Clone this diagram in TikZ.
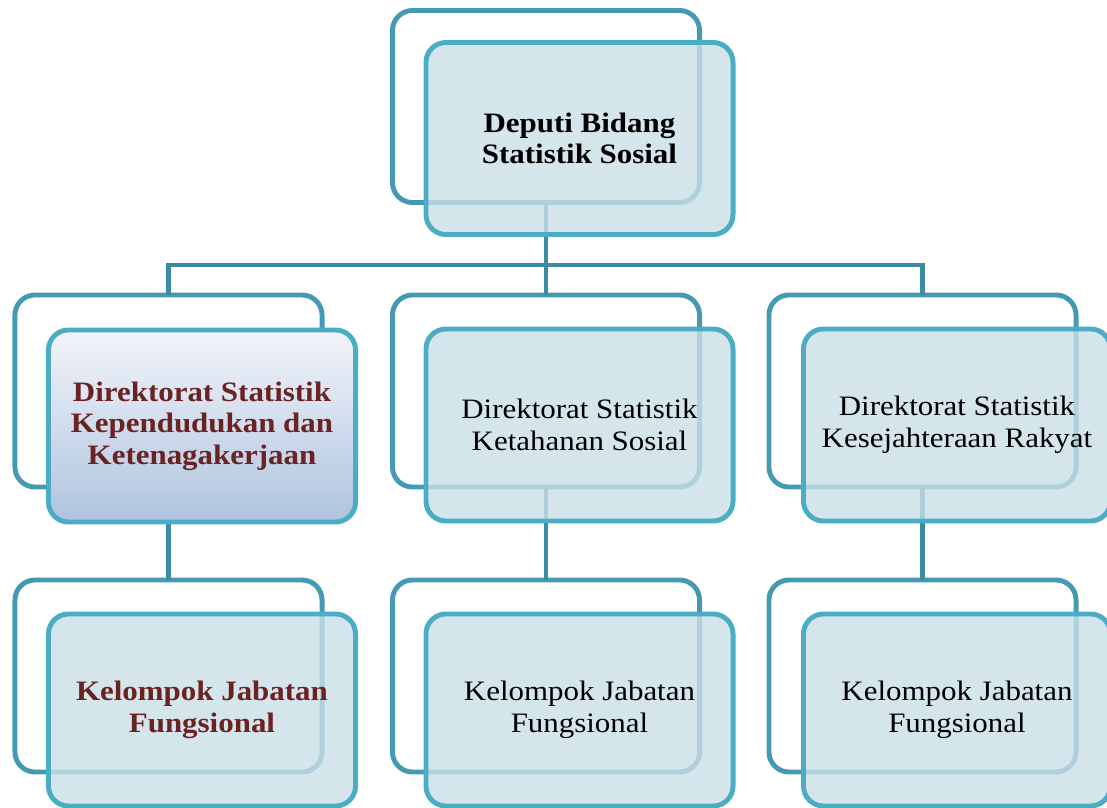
\documentclass[tikz,border=0pt]{standalone}
\usepackage{fontspec}
\setmainfont[FakeStretch=1.1]{Liberation Serif}
\usepackage{tikz}
\usetikzlibrary{calc}
\definecolor{boxline}{HTML}{4BACC6}
\definecolor{backline}{HTML}{4499B3}
\definecolor{connline}{HTML}{3B8BA3}
\definecolor{boxfill}{HTML}{CBDFE7}
\definecolor{titlered}{HTML}{6B2222}
\definecolor{gradtop}{HTML}{F2F5FA}
\definecolor{gradbot}{HTML}{AFC3DF}

\begin{document}
\begin{tikzpicture}[x=0.025cm,y=-0.025cm,
    backbox/.style={draw=backline,line width=3.5pt,rounded corners=0.5cm,
      minimum width=7.675cm,minimum height=4.8cm,inner sep=0pt,outer sep=0pt},
    frontbox/.style={backbox,draw=boxline,fill=boxfill,fill opacity=0.8,
      text opacity=1,align=center,font=\fontsize{20}{22.5}\selectfont},
    conn/.style={draw=connline,line width=3.5pt}]
    \useasboundingbox (0,0) rectangle (1107,808);
    % back frames
    \node[backbox] (deputiBack) at (546,106.5) {};
    \node[backbox] (kependudukanBack) at (168.5,391) {};
    \node[backbox] (ketahananBack) at (546,391) {};
    \node[backbox] (kesejahteraanBack) at (922.5,391) {};
    \node[backbox] (fungsionalKepBack) at (168.5,676) {};
    \node[backbox] (fungsionalKetBack) at (546,676) {};
    \node[backbox] (fungsionalKesBack) at (922.5,676) {};
    % connectors
    \coordinate (split) at (546,265);
    \draw[conn] (deputiBack.south) -- (split);
    \draw[conn] (kependudukanBack.north) |- (split) -| (kesejahteraanBack.north);
    \draw[conn] (split) -- (ketahananBack.north);
    \draw[conn] (kependudukanBack.south) -- (fungsionalKepBack.north);
    \draw[conn] (ketahananBack.south) -- (fungsionalKetBack.north);
    \draw[conn] (kesejahteraanBack.south) -- (fungsionalKesBack.north);
    % front boxes
    \node[frontbox] (deputi) at (579.5,138.5) {\textbf{Deputi Bidang}\\\textbf{Statistik Sosial}};
    \node[frontbox,fill opacity=1,top color=gradtop,bottom color=gradbot,
      text=titlered,font=\fontsize{20}{22.5}\selectfont\bfseries] (kependudukan) at (202,426)
      {Direktorat Statistik\\Kependudukan dan\\Ketenagakerjaan};
    \node[frontbox] (ketahanan) at (579.5,425) {Direktorat Statistik\\Ketahanan Sosial};
    \node[frontbox] (kesejahteraan) at (957,425) {Direktorat Statistik\\Kesejahteraan Rakyat};
    \node[frontbox,text=titlered,font=\fontsize{20}{22.5}\selectfont\bfseries] (fungsionalKep) at (202,710)
      {Kelompok Jabatan\\Fungsional};
    \node[frontbox] (fungsionalKet) at (579.5,710) {Kelompok Jabatan\\Fungsional};
    \node[frontbox] (fungsionalKes) at (957,710) {Kelompok Jabatan\\Fungsional};
\end{tikzpicture}
\end{document}
